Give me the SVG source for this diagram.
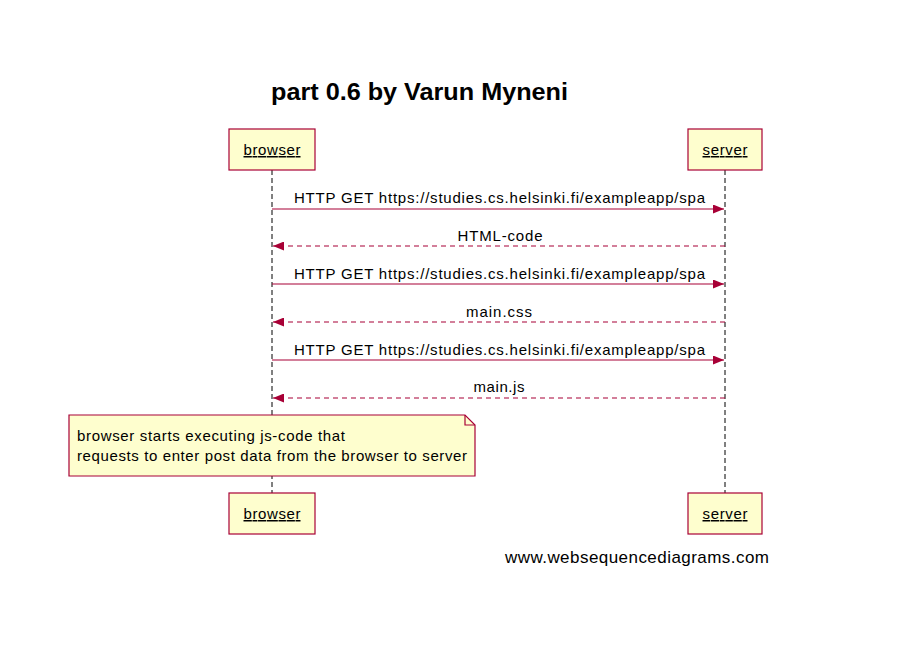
<svg xmlns="http://www.w3.org/2000/svg" width="897" height="656" viewBox="0 0 897 656">
<style>
.box{fill:#FEFECE;stroke:#A80036;stroke-width:1.2}
.life{stroke:#000;stroke-width:1;stroke-dasharray:5,3}
.msg{stroke:#A80036;stroke-width:1.2;fill:none}
.ret{stroke:#A80036;stroke-width:1.2;fill:none;stroke-dasharray:5,4}
text{font-family:"Liberation Sans",Arial,sans-serif;fill:#000}
.lbl{font-size:15px;text-anchor:middle}
.part{font-size:15px;text-anchor:middle;text-decoration:underline}
</style>
<defs>
<marker id="ah" viewBox="0 0 11 9" refX="11" refY="4.5" markerWidth="11" markerHeight="9" markerUnits="userSpaceOnUse" orient="auto">
<path d="M0,0 L11,4.5 L0,9 Z" fill="#A80036"/>
</marker>
</defs>
<rect width="897" height="656" fill="#fff"/>
<text x="271" y="100" style="font-size:24px;font-weight:bold" textLength="297" lengthAdjust="spacingAndGlyphs">part 0.6 by Varun Myneni</text>
<g id="lifelines">
<line class="life" x1="272" y1="170" x2="272" y2="493"/>
<line class="life" x1="725" y1="170" x2="725" y2="493"/>
</g>
<g id="browser-top"><rect class="box" x="229" y="129" width="86" height="41"/><text class="part" x="272" y="155" textLength="57">browser</text></g>
<g id="server-top"><rect class="box" x="688" y="129" width="74" height="41"/><text class="part" x="725" y="155" textLength="45">server</text></g>
<g id="connectors">
<line class="msg" x1="272" y1="209" x2="724" y2="209" marker-end="url(#ah)"/>
<text class="lbl" x="499.5" y="203" textLength="411">HTTP GET https://studies.cs.helsinki.fi/exampleapp/spa</text>
<line class="ret" x1="725" y1="246" x2="273" y2="246" marker-end="url(#ah)"/>
<text class="lbl" x="500" y="241" textLength="85">HTML-code</text>
<line class="msg" x1="272" y1="284" x2="724" y2="284" marker-end="url(#ah)"/>
<text class="lbl" x="499.5" y="279" textLength="411">HTTP GET https://studies.cs.helsinki.fi/exampleapp/spa</text>
<line class="ret" x1="725" y1="322" x2="273" y2="322" marker-end="url(#ah)"/>
<text class="lbl" x="499" y="317" textLength="66">main.css</text>
<line class="msg" x1="272" y1="360" x2="724" y2="360" marker-end="url(#ah)"/>
<text class="lbl" x="499.5" y="355" textLength="411">HTTP GET https://studies.cs.helsinki.fi/exampleapp/spa</text>
<line class="ret" x1="725" y1="398" x2="273" y2="398" marker-end="url(#ah)"/>
<text class="lbl" x="499" y="392" textLength="51">main.js</text>
</g>
<g id="note">
<path class="box" d="M69,415 H465 L475,425 V476 H69 Z"/>
<path d="M465,415 V425 H475" fill="none" stroke="#A80036" stroke-width="1.2"/>
<text x="77" y="441" style="font-size:15px" textLength="268">browser starts executing js-code that</text>
<text x="77" y="461" style="font-size:15px" textLength="390">requests to enter post data from the browser to server</text>
</g>
<g id="browser-bottom"><rect class="box" x="229" y="493" width="86" height="41"/><text class="part" x="272" y="519" textLength="57">browser</text></g>
<g id="server-bottom"><rect class="box" x="688" y="493" width="74" height="41"/><text class="part" x="725" y="519" textLength="45">server</text></g>
<text x="505" y="563" style="font-size:17px" textLength="264">www.websequencediagrams.com</text>
</svg>
